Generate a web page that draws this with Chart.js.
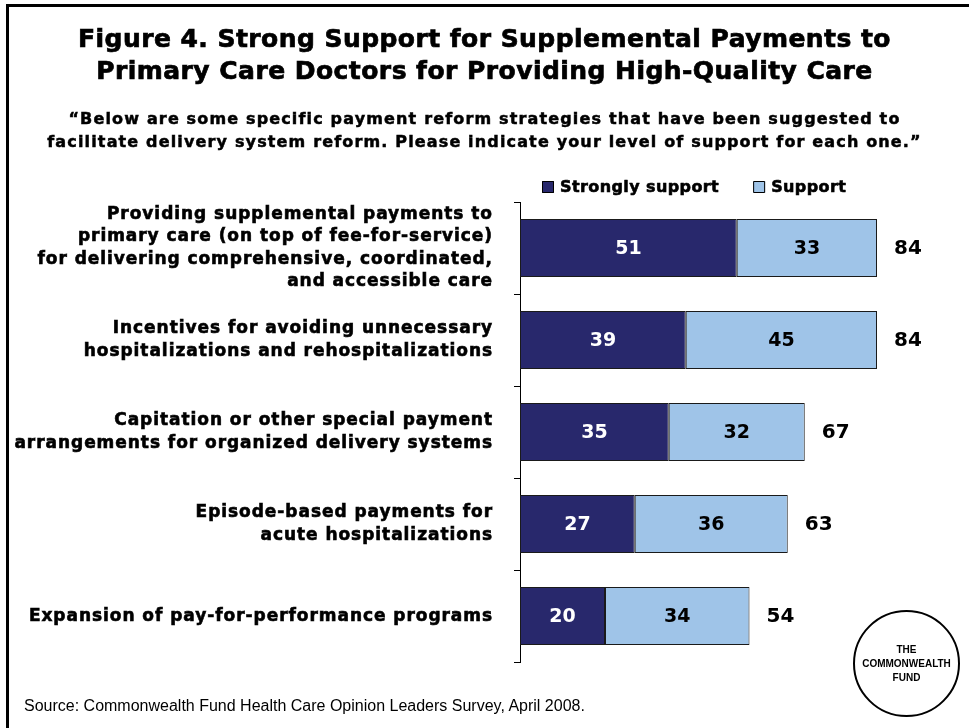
<!DOCTYPE html>
<html>
<head>
<meta charset="utf-8">
<script src="https://cdn.jsdelivr.net/npm/chart.js@4.4.1/dist/chart.umd.min.js"></script>
<style>
  body { margin: 0; background: #fff; }
  #wrap { position: relative; width: 969px; height: 728px; overflow: hidden; background: #fff; }
  #frame { position: absolute; left: 6px; top: 4px; width: 1000px; height: 800px; border: 3px solid #000; box-sizing: border-box; }
  .txt { position: absolute; left: 0; width: 969px; text-align: center; color: #000; font-family: "DejaVu Sans", sans-serif; font-weight: bold; -webkit-text-stroke: 0.7px #000; }
  #title { top: 23px; font-size: 25px; line-height: 32px; letter-spacing: 0.45px; }
  #sub { top: 107px; font-size: 16px; line-height: 23px; letter-spacing: 1.15px; -webkit-text-stroke: 0.5px #000; }
  #source { position: absolute; left: 24px; top: 697px; font-family: "Liberation Sans", Arial, sans-serif; font-size: 16px; color: #000; }
  #logo { position: absolute; left: 853px; top: 610px; width: 107px; height: 107px; border: 2px solid #000; border-radius: 50%; box-sizing: border-box; background: #fff;
          font-family: "Liberation Sans", Arial, sans-serif; font-weight: bold; font-size: 10px; line-height: 14px; text-align: center; display: flex; align-items: center; justify-content: center; }
  canvas { position: absolute; left: 0; top: 0; }
</style>
</head>
<body>
<div id="wrap">
  <div id="frame"></div>
  <canvas id="chart" width="969" height="728"></canvas>
  <div id="title" class="txt">Figure 4. Strong Support for Supplemental Payments to<br>Primary Care Doctors for Providing High-Quality Care</div>
  <div id="sub" class="txt">“Below are some specific payment reform strategies that have been suggested to<br>facilitate delivery system reform. Please indicate your level of support for each one.”</div>
  <div id="source">Source: Commonwealth Fund Health Care Opinion Leaders Survey, April 2008.</div>
  <div id="logo"><div>THE<br>COMMONWEALTH<br>FUND</div></div>
</div>
<script>
const categories = [
  ["Providing supplemental payments to", "primary care (on top of fee-for-service)", "for delivering comprehensive, coordinated,", "and accessible care"],
  ["Incentives for avoiding unnecessary", "hospitalizations and rehospitalizations"],
  ["Capitation or other special payment", "arrangements for organized delivery systems"],
  ["Episode-based payments for", "acute hospitalizations"],
  ["Expansion of pay-for-performance programs"]
];
const stronglySupport = [51, 39, 35, 27, 20];
const support = [33, 45, 32, 36, 34];
const totals = [84, 84, 67, 63, 54];

// wider glyphs for the axis labels (closer to the heavy original face)
const labelSpacing = {
  id: "labelSpacing",
  beforeDraw(chart) {
    chart.ctx.letterSpacing = "0.95px";
  }
};

// values inside bars, totals at the end, and the legend
const barText = {
  id: "barText",
  afterDatasetsDraw(chart) {
    const ctx = chart.ctx;
    ctx.save();
    ctx.letterSpacing = "0px";
    ctx.textBaseline = "middle";
    ctx.textAlign = "center";
    ctx.font = "bold 19px 'DejaVu Sans'";
    chart.data.datasets.forEach((ds, di) => {
      const meta = chart.getDatasetMeta(di);
      meta.data.forEach((bar, i) => {
        ctx.fillStyle = di === 0 ? "#fff" : "#000";
        ctx.fillText(ds.data[i], (bar.x + bar.base) / 2, bar.y + 1);
      });
    });
    const last = chart.getDatasetMeta(chart.data.datasets.length - 1);
    ctx.textAlign = "left";
    ctx.fillStyle = "#000";
    ctx.font = "bold 20px 'DejaVu Sans'";
    last.data.forEach((bar, i) => {
      ctx.fillText(totals[i], bar.x + 17, bar.y + 1);
    });

    // legend
    let x = 542;
    const y = 187;
    ctx.font = "bold 16px 'DejaVu Sans'";
    ctx.letterSpacing = "0.4px";
    ctx.lineJoin = "round";
    chart.data.datasets.forEach((ds) => {
      ctx.fillStyle = ds.backgroundColor;
      ctx.fillRect(x, y - 6, 12, 12);
      ctx.strokeStyle = "#000";
      ctx.lineWidth = 1;
      ctx.strokeRect(x + 0.5, y - 5.5, 11, 11);
      ctx.fillStyle = "#000";
      ctx.lineWidth = 0.6;
      ctx.fillText(ds.label, x + 18, y + 1);
      ctx.strokeText(ds.label, x + 18, y + 1);
      x += 18 + ctx.measureText(ds.label).width + 34;
    });
    ctx.restore();
  }
};

new Chart(document.getElementById("chart"), {
  type: "bar",
  data: {
    labels: categories,
    datasets: [
      { label: "Strongly support", data: stronglySupport, backgroundColor: "#28286c", borderColor: "#1a1a1a", borderWidth: 1, borderSkipped: false },
      { label: "Support", data: support, backgroundColor: "#9fc4e8", borderColor: "#1a1a1a", borderWidth: 1, borderSkipped: false }
    ]
  },
  options: {
    indexAxis: "y",
    responsive: false,
    animation: false,
    layout: { padding: { top: 202, bottom: 65, left: 0, right: 24 } },
    categoryPercentage: 1,
    barPercentage: 0.63,
    plugins: {
      legend: { display: false },
      tooltip: { enabled: false }
    },
    scales: {
      x: { stacked: true, display: false, min: 0, max: 100 },
      y: {
        stacked: true,
        offset: true,
        afterFit: (scale) => { scale.width = 520; },
        grid: { display: true, drawOnChartArea: false, offset: true, tickLength: 6, color: "#000", lineWidth: 1 },
        border: { display: true, color: "#000", width: 1 },
        ticks: {
          color: "#000",
          autoSkip: false,
          padding: 21,
          textStrokeColor: "#000",
          textStrokeWidth: 0.6,
          font: { family: "DejaVu Sans", weight: "bold", size: 17, lineHeight: 1.32 }
        }
      }
    }
  },
  plugins: [labelSpacing, barText]
});
</script>
</body>
</html>
